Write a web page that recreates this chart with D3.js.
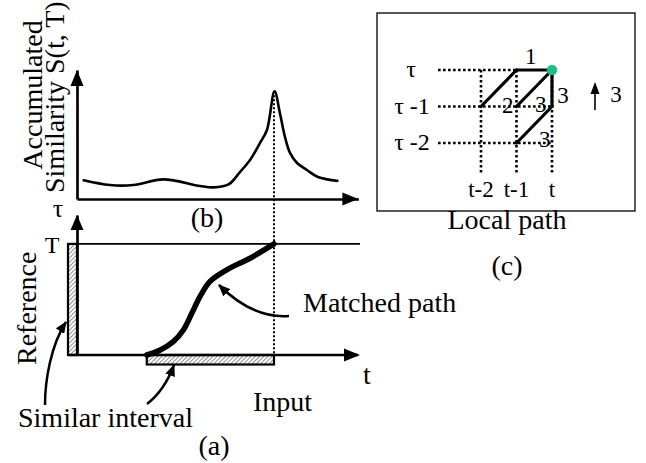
<!DOCTYPE html>
<html><head><meta charset="utf-8">
<script src="https://cdn.jsdelivr.net/npm/d3@7"></script>
<style>
body{margin:0;background:#fff}
svg{display:block}
text{font-family:"Liberation Serif","Times New Roman",serif;fill:#000}
</style>
</head><body>
<svg id="c" width="646" height="463"></svg>
<script>
// ---------- data ----------
// (b) accumulated similarity curve
const simT = [2.0, 11.7, 20.0, 30.7, 43.7, 48.5, 54.0, 57.9, 61.5, 65.0, 67.5, 70.2, 72.1, 73.9, 75.7, 78.2, 81.7, 85.6, 92.9];
const simS = [1.47, 1.08, 1.08, 1.52, 1.01, 0.90, 1.15, 2.09, 3.02, 4.34, 5.35, 8.35, 6.67, 4.81, 3.57, 2.79, 2.25, 1.71, 1.40];
// (a) matched path
const pathT   = [24.8, 29.6, 34.2, 37.8, 40.8, 43.7, 47.2, 53.2, 61.5, 70];
const pathTau = [0, 0.45, 1.2, 2.25, 3.75, 5.25, 6.6, 7.66, 8.71, 10];
const refLength = 10;            // T
const intervalStart = 24.8, intervalEnd = 70;
// (c) local path
const colOffsets = [-2, -1, 0];
const colLabels  = ["t-2", "t-1", "t"];
const rowOffsets = [0, -1, -2];
const rowLabels  = ["τ", "τ -1", "τ -2"];
const stepFrom   = [[-2, -1], [-1, 0], [-1, -1], [0, -1], [-1, -2]];
const stepTo     = [[-1, 0], [0, 0], [0, 0], [0, 0], [0, -1]];
const stepWeight = ["2", "1", "3", "3", "3"];
const verticalWeight = "3";

// ---------- drawing ----------
const svg = d3.select("#c");
const defs = svg.append("defs");
const pat = defs.append("pattern").attr("id", "hatch").attr("patternUnits", "userSpaceOnUse")
  .attr("width", 3).attr("height", 3).attr("patternTransform", "rotate(45)");
pat.append("rect").attr("width", 3).attr("height", 3).attr("fill", "#fff");
pat.append("line").attr("x1", 0).attr("y1", 0).attr("x2", 0).attr("y2", 3)
  .attr("stroke", "#555").attr("stroke-width", 1.3);
defs.append("marker").attr("id", "ah").attr("viewBox", "0 0 12 10").attr("refX", 11).attr("refY", 5)
  .attr("markerWidth", 12).attr("markerHeight", 10).attr("markerUnits", "userSpaceOnUse").attr("orient", "auto")
  .append("path").attr("d", "M0,0L12,5L0,10Z").attr("fill", "#000");

const F = 28;
function tri(tip, dir, len, hw) {
  const [x, y] = tip;
  const pts = dir === "up" ? [[x, y], [x - hw, y + len], [x + hw, y + len]] : [[x, y], [x - len, y - hw], [x - len, y + hw]];
  svg.append("path").attr("d", d3.line()(pts) + "Z").attr("fill", "#000");
}

// scales
const x = d3.scaleLinear([0, 100], [77, 358.4]);
const yS = d3.scaleLinear([0, 10], [199, 70]);
const yR = d3.scaleLinear([0, 12.6], [355, 215]);

// ---- (b) ----
svg.append("g").attr("transform", `translate(0,${yS(0)})`)
  .call(d3.axisBottom(x).tickValues([]).tickSizeOuter(0))
  .call(g => g.select(".domain").attr("stroke", "#000").attr("stroke-width", 2.7));
svg.append("g").attr("transform", `translate(${x(0)},0)`)
  .call(d3.axisLeft(yS).tickValues([]).tickSizeOuter(0))
  .call(g => g.select(".domain").attr("stroke", "#000").attr("stroke-width", 2.7));
tri([x(0), yS(10)], "up", 16, 6.5);
tri([x(100), yS(0)], "right", 16, 6.5);
const simData = simT.map((t, i) => [t, simS[i]]);
svg.append("path").datum(simData)
  .attr("d", d3.line().x(d => x(d[0])).y(d => yS(d[1])).curve(d3.curveCatmullRom.alpha(0.5)))
  .attr("fill", "none").attr("stroke", "#000").attr("stroke-width", 2.6).attr("stroke-linejoin", "round");

svg.append("text").attr("transform", `translate(42,95) rotate(-90)`).attr("text-anchor", "middle")
  .attr("font-size", F).text("Accumulated");
svg.append("text").attr("transform", `translate(64,193) rotate(-90)`).attr("text-anchor", "start")
  .attr("font-size", F).text("Similarity S(t, T)");
svg.append("text").attr("x", 207).attr("y", 227).attr("text-anchor", "middle").attr("font-size", F).text("(b)");

// dotted connector
const peakIdx = simS.indexOf(d3.max(simS));
svg.append("line").attr("x1", x(intervalEnd)).attr("x2", x(intervalEnd)).attr("y1", yS(simS[peakIdx])).attr("y2", yR(0))
  .attr("stroke", "#000").attr("stroke-width", 2).attr("stroke-dasharray", "2,2");

// ---- (a) ----
svg.append("rect").attr("x", 68).attr("y", yR(refLength)).attr("width", x(0) - 68).attr("height", yR(0) - yR(refLength))
  .attr("fill", "url(#hatch)").attr("stroke", "#000").attr("stroke-width", 2.2);
svg.append("rect").attr("x", x(intervalStart)).attr("y", yR(0)).attr("width", x(intervalEnd) - x(intervalStart)).attr("height", 9.5)
  .attr("fill", "url(#hatch)").attr("stroke", "#000").attr("stroke-width", 2.2);
svg.append("line").attr("x1", 68).attr("x2", 360).attr("y1", yR(refLength)).attr("y2", yR(refLength))
  .attr("stroke", "#000").attr("stroke-width", 1.6);
svg.append("line").attr("x1", 68).attr("x2", 358).attr("y1", yR(0)).attr("y2", yR(0))
  .attr("stroke", "#000").attr("stroke-width", 2.7);
svg.append("g").attr("transform", `translate(${x(0)},0)`)
  .call(d3.axisLeft(yR).tickValues([]).tickSizeOuter(0))
  .call(g => g.select(".domain").attr("stroke", "#000").attr("stroke-width", 2.7));
tri([x(0), yR(12.6)], "up", 15, 6.5);
tri([360, yR(0)], "right", 16, 6.5);
const pData = pathT.map((t, i) => [t, pathTau[i]]);
svg.append("path").datum(pData)
  .attr("d", d3.line().x(d => x(d[0])).y(d => yR(d[1])).curve(d3.curveCatmullRom.alpha(0.5)))
  .attr("fill", "none").attr("stroke", "#000").attr("stroke-width", 5.5).attr("stroke-linecap", "round");

const ann = ["M45,405 C45,380 51,345 66,322", "M147,404 C160,394 168,381 174,365", "M289,316 C262,318 240,306 219,285"];
ann.forEach(d => svg.append("path").attr("d", d).attr("fill", "none").attr("stroke", "#000")
  .attr("stroke-width", 2.5).attr("marker-end", "url(#ah)"));

svg.append("text").attr("x", 58).attr("y", 217).attr("text-anchor", "middle").attr("font-size", 26).text("τ");
svg.append("text").attr("x", 52).attr("y", 253).attr("text-anchor", "middle").attr("font-size", 24).text("T");
svg.append("text").attr("transform", `translate(36,365) rotate(-90)`).attr("font-size", F).text("Reference");
svg.append("text").attr("x", 303).attr("y", 312).attr("font-size", F).text("Matched path");
svg.append("text").attr("x", 367).attr("y", 384).attr("text-anchor", "middle").attr("font-size", F).text("t");
svg.append("text").attr("x", 253).attr("y", 411).attr("font-size", F).text("Input");
svg.append("text").attr("x", 18).attr("y", 427).attr("font-size", F).text("Similar interval");
svg.append("text").attr("x", 214).attr("y", 455).attr("text-anchor", "middle").attr("font-size", F).text("(a)");

// ---- (c) ----
svg.append("rect").attr("x", 377).attr("y", 13).attr("width", 258).attr("height", 198)
  .attr("fill", "none").attr("stroke", "#222").attr("stroke-width", 1.5);
const xc = d3.scaleLinear([-2, 0], [481, 552]);
const yc = d3.scaleLinear([-2, 0], [143, 70]);
const dot = {stroke: "#000", "stroke-width": 2.6, "stroke-dasharray": "2.6,2.4"};
function applyAttrs(sel, o) { Object.entries(o).forEach(([k, v]) => sel.attr(k, v)); return sel; }
rowOffsets.forEach(r => {
  const xEnd = r === 0 ? xc(-1) : xc(0);
  applyAttrs(svg.append("line").attr("x1", xc(-3.21)).attr("x2", xEnd).attr("y1", yc(r)).attr("y2", yc(r)), dot);
});
colOffsets.forEach(c => {
  applyAttrs(svg.append("line").attr("x1", xc(c)).attr("x2", xc(c)).attr("y1", yc(0)).attr("y2", yc(-2.88)), dot);
});
stepFrom.forEach((f, i) => {
  const t = stepTo[i];
  svg.append("line").attr("x1", xc(f[0])).attr("y1", yc(f[1])).attr("x2", xc(t[0])).attr("y2", yc(t[1]))
    .attr("stroke", "#000").attr("stroke-width", 3.2).attr("stroke-linecap", "round");
});
const wOff = [[9, 16.5], [-3.5, -14], [6.5, 15.5], [11, 6.5], [10.5, 14]];
stepFrom.forEach((f, i) => {
  const t = stepTo[i];
  const mx = (xc(f[0]) + xc(t[0])) / 2 + wOff[i][0];
  const my = (yc(f[1]) + yc(t[1])) / 2 + wOff[i][1];
  svg.append("text").attr("x", mx).attr("y", my + 8).attr("text-anchor", "middle").attr("font-size", 23).text(stepWeight[i]);
});
svg.append("circle").attr("cx", xc(0)).attr("cy", yc(0)).attr("r", 5.2).attr("fill", "#1dbf88");
colOffsets.forEach((c, i) => svg.append("text").attr("x", xc(c)).attr("y", 197).attr("text-anchor", "middle")
  .attr("font-size", 23).text(colLabels[i]));
rowOffsets.forEach((r, i) => svg.append("text").attr("x", i === 0 ? 411 : 412).attr("y", yc(r) + 7).attr("text-anchor", "middle")
  .attr("font-size", 24).text(rowLabels[i]));
svg.append("line").attr("x1", 595).attr("x2", 595).attr("y1", 110).attr("y2", 84)
  .attr("stroke", "#000").attr("stroke-width", 1.6);
svg.append("path").attr("d", "M595,82L590.5,94L599.5,94Z").attr("fill", "#000");
svg.append("text").attr("x", 616).attr("y", 102).attr("text-anchor", "middle").attr("font-size", 23).text(verticalWeight);
svg.append("text").attr("x", 507).attr("y", 229).attr("text-anchor", "middle").attr("font-size", F).text("Local path");
svg.append("text").attr("x", 507).attr("y", 275).attr("text-anchor", "middle").attr("font-size", F).text("(c)");
</script>
</body></html>
